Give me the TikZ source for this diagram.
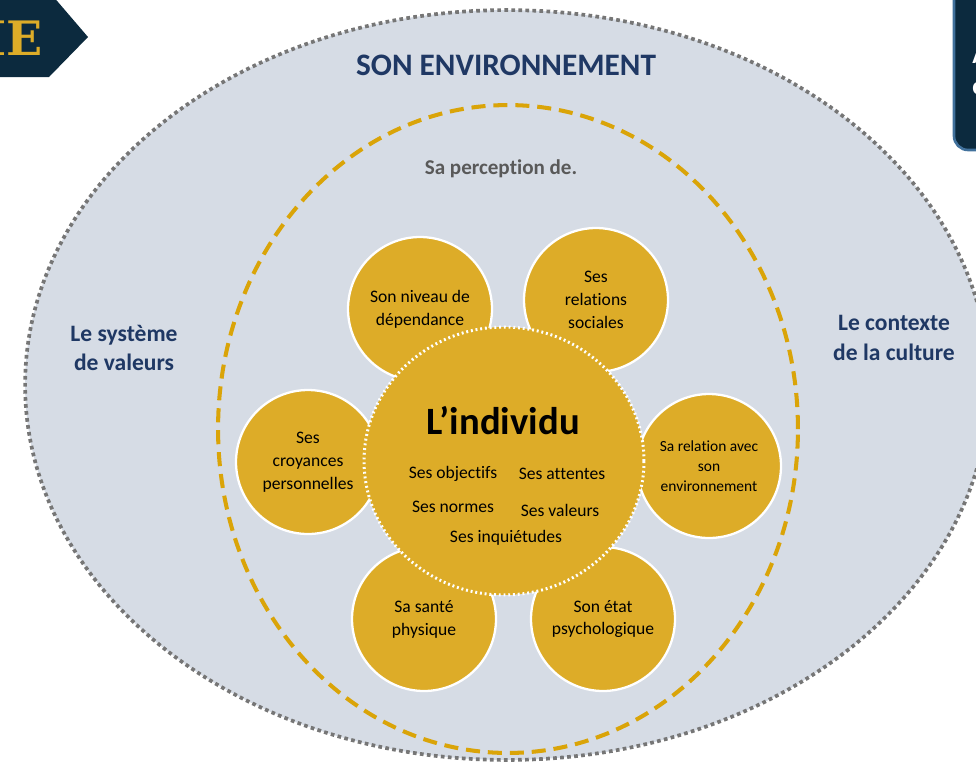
\documentclass[tikz,border=0pt]{standalone}
\usepackage{fontspec}
\setmainfont{Carlito}[Ligatures={NoCommon}]
\newfontfamily\badgefont{DejaVu Serif}
\usetikzlibrary{shapes.geometric}
\definecolor{envfill}{RGB}{214,220,229}
\definecolor{envline}{RGB}{118,118,118}
\definecolor{gold}{RGB}{221,172,40}
\definecolor{golddash}{RGB}{218,164,8}
\definecolor{navytext}{RGB}{31,56,100}
\definecolor{graytext}{RGB}{89,89,89}
\definecolor{badge}{RGB}{12,42,62}
\definecolor{badgeline}{RGB}{65,113,156}

\begin{document}
\begin{tikzpicture}[x=0.02cm, y=-0.02cm,
  petal/.style={circle, fill=gold, draw=white, line width=1.3pt, minimum size=2.88cm, inner sep=0pt, align=center, font=\fontsize{10}{13}\selectfont},
  core/.style={ellipse, fill=gold, draw=white, line width=1.7pt, dash pattern=on 1.1pt off 1.6pt, minimum width=5.6cm, minimum height=5.36cm},
  item/.style={font=\fontsize{10}{12}\selectfont, inner sep=0pt},
  side/.style={text=navytext, align=center, font=\fontsize{13.4}{17}\selectfont\bfseries}]
  \useasboundingbox (0,0) rectangle (976,765);
  \clip (0,0) rectangle (976,765);
  % environnement et perception
  \node[ellipse, fill=envfill, draw=envline, line width=2.1pt, dash pattern=on 2.1pt off 1.9pt, minimum width=19.28cm, minimum height=15cm] (env) at (507,385) {};
  \node[ellipse, draw=golddash, line width=2.3pt, dash pattern=on 8pt off 4.5pt, minimum width=11.6cm, minimum height=12.96cm] (perc) at (508,429) {};
  \node[text=navytext, font=\fontsize{17.8}{20}\selectfont\bfseries] (envtitle) at (506,65) {SON ENVIRONNEMENT};
  \node[text=graytext, font=\fontsize{12}{14}\selectfont\bfseries] (perctitle) at (501,169) {Sa perception de.};
  \node[side] (valeurs) at (124,348) {Le système\\de valeurs};
  \node[side] (culture) at (894,338) {Le contexte\\de la culture};
  % petales
  \node[petal] (niveau) at (420,309) {Son niveau de\\dépendance};
  \node[petal] (relations) at (596,300) {Ses\\relations\\sociales};
  \node[petal] (croyances) at (308,462) {Ses\\croyances\\personnelles};
  \node[petal, font=\fontsize{8.8}{11.3}\selectfont] (milieu) at (709,466) {Sa relation avec\\son\\environnement};
  \node[petal] (sante) at (424,619) {Sa santé\\physique};
  \node[petal] (etat) at (603,619) {Son état\\psychologique};
  % individu
  \node[core] (individu) at (504,461) {};
  \node[font=\fontsize{22}{24}\selectfont\bfseries] (titre) at (503,421) {L’individu};
  \node[item] (objectifs) at (453,474) {Ses objectifs};
  \node[item] (attentes) at (562,474) {Ses attentes};
  \node[item] (normes) at (453,507) {Ses normes};
  \node[item] (valeursind) at (560,510) {Ses valeurs};
  \node[item] (inquietudes) at (506,538) {Ses inquiétudes};
  % bandeaux coupes
  \fill[badge] (0,-5) -- (52,-5) -- (88,37) -- (49,77) -- (0,77) -- cycle;
  \node[text=gold, font=\badgefont\bfseries\fontsize{27}{30}\selectfont, anchor=east, inner sep=0pt] (badgetxt) at (43,38) {IE};
  \draw[badgeline, fill=badge, line width=1.5pt, rounded corners=8pt] (954,-30) rectangle (1010,150);
  \node[text=white, font=\fontsize{14}{16}\selectfont\bfseries, anchor=west, inner sep=0pt] (boxa) at (972,56) {A};
  \node[text=white, font=\fontsize{14}{16}\selectfont\bfseries, anchor=west, inner sep=0pt] (boxc) at (972,89) {c};
\end{tikzpicture}
\end{document}
